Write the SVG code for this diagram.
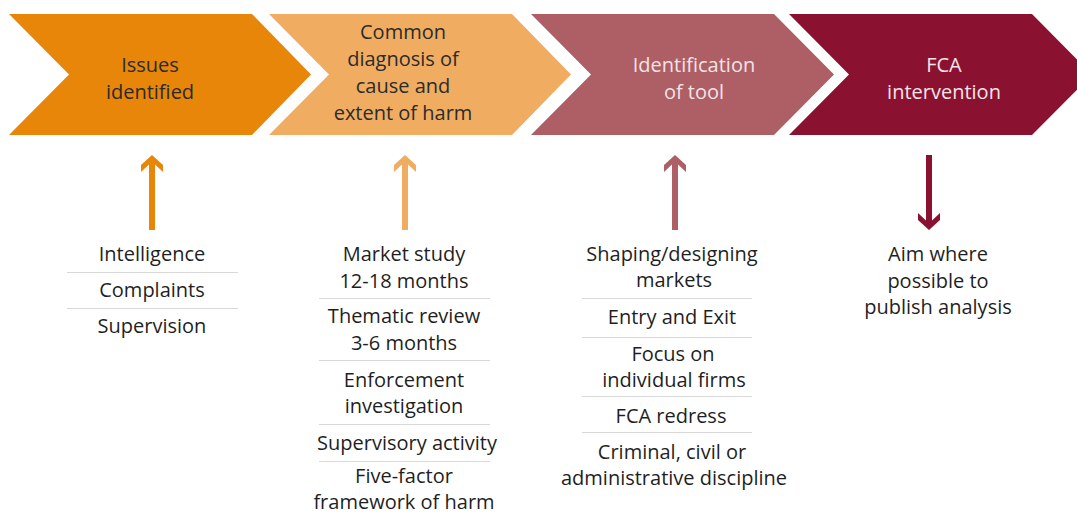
<svg xmlns="http://www.w3.org/2000/svg" width="1077" height="515" viewBox="0 0 1077 515">
  <style>
    text { font-family: "Open Sans", "Liberation Sans", sans-serif; font-size: 20px; text-anchor: middle; }
    .dark { fill: #2b2b2b; }
    .light { fill: #f3e4e6; }
    .item { fill: #1f1f1f; }
    .sep { stroke: #d9d9d9; stroke-width: 1; }
  </style>
  <defs>
    <!-- up arrow centred on x=0, tip at y=0, tail at y=75 -->
    <path id="upArrow" d="M0,0 L11,10 L11,17 L3,9.5 L3,75 L-3,75 L-3,9.5 L-11,17 L-11,10 Z"/>
  </defs>
  <rect width="1077" height="515" fill="#ffffff"/>

  <!-- process chevrons -->
  <g id="step-issues">
    <polygon points="9,14 252,14 311,74.5 252,135 9,135 69,74.5" fill="#e8860a"/>
    <text class="dark" x="150" y="72">Issues</text>
    <text class="dark" x="150" y="99">identified</text>
  </g>
  <g id="step-diagnosis">
    <polygon points="269,14 512,14 571,74.5 512,135 269,135 329,74.5" fill="#f0ad62"/>
    <text class="dark" x="403" y="39">Common</text>
    <text class="dark" x="403" y="66">diagnosis of</text>
    <text class="dark" x="403" y="93">cause and</text>
    <text class="dark" x="403" y="120">extent of harm</text>
  </g>
  <g id="step-tool">
    <polygon points="531,14 774,14 834,74.5 774,135 531,135 591,74.5" fill="#ae5e65"/>
    <text class="light" x="694" y="72">Identification</text>
    <text class="light" x="694" y="99">of tool</text>
  </g>
  <g id="step-intervention">
    <polygon points="789,14 1032,14 1092,74.5 1032,135 789,135 849,74.5" fill="#8b1131"/>
    <text class="light" x="944" y="72">FCA</text>
    <text class="light" x="944" y="99">intervention</text>
  </g>

  <!-- connectors between lists and chevrons -->
  <g id="connectors">
    <use href="#upArrow" x="152" y="155" fill="#e8860a"/>
    <use href="#upArrow" x="405" y="155" fill="#f0ad62"/>
    <use href="#upArrow" x="675" y="155" fill="#ae5e65"/>
    <use href="#upArrow" transform="translate(929,230) scale(1,-1)" fill="#8b1131"/>
  </g>

  <!-- input lists -->
  <g id="list-issues">
    <text class="item" x="152" y="261">Intelligence</text>
    <line class="sep" x1="67" y1="272.5" x2="238" y2="272.5"/>
    <text class="item" x="152" y="297">Complaints</text>
    <line class="sep" x1="67" y1="308.5" x2="238" y2="308.5"/>
    <text class="item" x="152" y="333">Supervision</text>
  </g>
  <g id="list-diagnosis">
    <text class="item" x="404" y="261">Market study</text>
    <text class="item" x="404" y="288">12-18 months</text>
    <line class="sep" x1="319" y1="298.5" x2="490" y2="298.5"/>
    <text class="item" x="404" y="323">Thematic review</text>
    <text class="item" x="404" y="350">3-6 months</text>
    <line class="sep" x1="319" y1="360.5" x2="490" y2="360.5"/>
    <text class="item" x="404" y="387">Enforcement</text>
    <text class="item" x="404" y="413">investigation</text>
    <line class="sep" x1="319" y1="424.5" x2="490" y2="424.5"/>
    <text class="item" x="407" y="450">Supervisory activity</text>
    <line class="sep" x1="319" y1="461.5" x2="490" y2="461.5"/>
    <text class="item" x="404" y="483">Five-factor</text>
    <text class="item" x="404" y="509">framework of harm</text>
  </g>
  <g id="list-tool">
    <text class="item" x="672" y="261">Shaping/designing</text>
    <text class="item" x="674" y="287">markets</text>
    <line class="sep" x1="582" y1="298.5" x2="752" y2="298.5"/>
    <text class="item" x="672" y="324">Entry and Exit</text>
    <line class="sep" x1="582" y1="337.5" x2="752" y2="337.5"/>
    <text class="item" x="673" y="361">Focus on</text>
    <text class="item" x="674" y="387">individual firms</text>
    <line class="sep" x1="582" y1="396.5" x2="752" y2="396.5"/>
    <text class="item" x="671" y="423">FCA redress</text>
    <line class="sep" x1="582" y1="432.5" x2="752" y2="432.5"/>
    <text class="item" x="672" y="459">Criminal, civil or</text>
    <text class="item" x="674" y="485">administrative discipline</text>
  </g>
  <g id="list-intervention">
    <text class="item" x="938" y="261">Aim where</text>
    <text class="item" x="938" y="288">possible to</text>
    <text class="item" x="938" y="314">publish analysis</text>
  </g>
</svg>
